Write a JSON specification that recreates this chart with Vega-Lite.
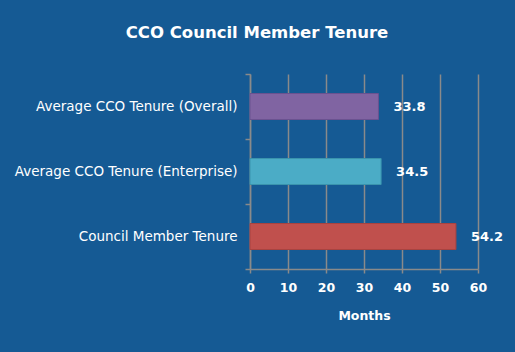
{
  "$schema": "https://vega.github.io/schema/vega-lite/v6.json",
  "width": 228,
  "height": 195,
  "autosize": {"type": "none"},
  "padding": {"left": 250, "top": 74, "right": 37, "bottom": 83},
  "background": "#155a94",
  "title": {
    "text": "CCO Council Member Tenure",
    "color": "white",
    "font": "DejaVu Sans",
    "fontSize": 16.5,
    "fontWeight": "bold",
    "anchor": "middle",
    "dx": -107,
    "offset": 26
  },
  "config": {
    "view": {"stroke": null},
    "font": "DejaVu Sans"
  },
  "data": {
    "values": [
      {"category": "Average CCO Tenure (Overall)", "value": 33.8},
      {"category": "Average CCO Tenure (Enterprise)", "value": 34.5},
      {"category": "Council Member Tenure", "value": 54.2}
    ]
  },
  "encoding": {
    "y": {
      "field": "category",
      "type": "nominal",
      "sort": null,
      "scale": {"paddingInner": 0, "paddingOuter": 0},
      "axis": {
        "title": null,
        "labelColor": "white",
        "labelFont": "DejaVu Sans",
        "labelFontSize": 13.5,
        "labelPadding": 8,
        "labelLimit": 300,
        "tickBand": "extent",
        "tickColor": "#8a8a8a",
        "tickSize": 5,
        "tickWidth": 1.5,
        "domainColor": "#8a8a8a",
        "domainWidth": 1.5,
        "grid": false
      }
    },
    "x": {
      "field": "value",
      "type": "quantitative",
      "scale": {"domain": [0, 60], "nice": false},
      "axis": {
        "values": [0, 10, 20, 30, 40, 50, 60],
        "title": "Months",
        "titleColor": "white",
        "titleFont": "DejaVu Sans",
        "titleFontSize": 12.5,
        "titleFontWeight": "bold",
        "titlePadding": 16,
        "labelColor": "white",
        "labelFont": "DejaVu Sans",
        "labelFontSize": 12.5,
        "labelFontWeight": "bold",
        "labelPadding": 8,
        "labelFlush": false,
        "grid": true,
        "gridColor": "#8a8a8a",
        "gridWidth": 1.5,
        "tickColor": "#8a8a8a",
        "tickWidth": 1.5,
        "tickSize": 4,
        "domainColor": "#8a8a8a",
        "domainWidth": 1.5
      }
    }
  },
  "layer": [
    {
      "mark": {"type": "bar", "size": 26, "strokeWidth": 1},
      "encoding": {
        "color": {
          "field": "category",
          "type": "nominal",
          "legend": null,
          "scale": {
            "domain": ["Average CCO Tenure (Overall)", "Average CCO Tenure (Enterprise)", "Council Member Tenure"],
            "range": ["#8064a2", "#4bacc6", "#c0504d"]
          }
        },
        "stroke": {
          "field": "category",
          "type": "nominal",
          "legend": null,
          "scale": {
            "domain": ["Average CCO Tenure (Overall)", "Average CCO Tenure (Enterprise)", "Council Member Tenure"],
            "range": ["#6a5290", "#3a94ad", "#a84340"]
          }
        }
      }
    },
    {
      "mark": {"type": "text", "align": "left", "dx": 15, "color": "white", "fontWeight": "bold", "fontSize": 13, "font": "DejaVu Sans"},
      "encoding": {
        "text": {"field": "value", "type": "quantitative", "format": ".1f"}
      }
    }
  ]
}
